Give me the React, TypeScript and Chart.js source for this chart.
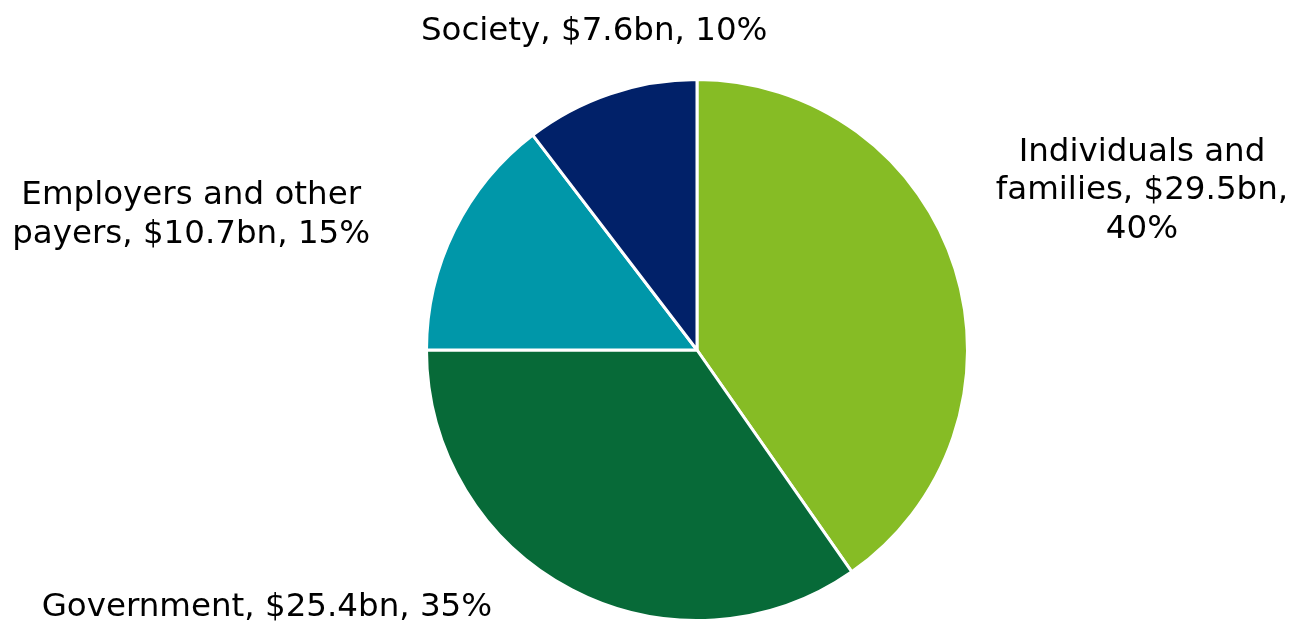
import React, { useEffect, useRef } from "react";
import { Chart, registerables } from "chart.js";

Chart.register(...registerables);

const categories = ["Individuals and families", "Government", "Employers and other payers", "Society"];
const spendBn = [29.5, 25.4, 10.7, 7.6];
const shares = [40, 35, 15, 10];
const sliceColors = ["#86BC25", "#076A38", "#0097A9", "#012169"];

// Label text, broken over lines the way it is set beside the pie
const labelLines = [
  ["Individuals and", `families, $${spendBn[0]}bn,`, `${shares[0]}%`],
  [`Government, $${spendBn[1]}bn, ${shares[1]}%`],
  ["Employers and other", `payers, $${spendBn[2]}bn, ${shares[2]}%`],
  [`Society, $${spendBn[3]}bn, ${shares[3]}%`],
];

// Where each label block sits, in units of the pie radius from its centre
const labelPlacement = [
  { x: 1.645, y: -0.588 },
  { x: -1.59, y: 0.951 },
  { x: -1.87, y: -0.498 },
  { x: -0.38, y: -1.178 },
];

const FONT = '32.5px "DejaVu Sans", Verdana, sans-serif';
const LINE_HEIGHT = 38.5;

const sideLabels = {
  id: "sideLabels",
  afterDatasetsDraw(chart: Chart) {
    const meta = chart.getDatasetMeta(0);
    const ctx = chart.ctx;
    ctx.save();
    ctx.font = FONT;
    ctx.fillStyle = "#000000";
    ctx.textAlign = "center";
    ctx.textBaseline = "middle";
    meta.data.forEach((arc: any, i: number) => {
      const { x, y, outerRadius } = arc.getProps(["x", "y", "outerRadius"], true);
      const p = labelPlacement[i];
      const cx = x + p.x * outerRadius;
      const cy = y + p.y * outerRadius;
      const lines = labelLines[i];
      const top = cy - ((lines.length - 1) * LINE_HEIGHT) / 2;
      lines.forEach((line, j) => ctx.fillText(line, cx, top + j * LINE_HEIGHT));
    });
    ctx.restore();
  },
};

export default function App() {
  const canvasRef = useRef<HTMLCanvasElement>(null);

  useEffect(() => {
    const chart = new Chart(canvasRef.current!, {
      type: "pie",
      data: {
        labels: categories,
        datasets: [
          {
            data: spendBn,
            backgroundColor: sliceColors,
            borderColor: "#ffffff",
            borderWidth: 3,
          },
        ],
      },
      options: {
        animation: false,
        responsive: true,
        maintainAspectRatio: false,
        layout: { padding: { top: 78, bottom: -3, left: 423, right: 321 } },
        plugins: {
          legend: { display: false },
          tooltip: { enabled: false },
        },
      },
      plugins: [sideLabels],
    });
    return () => chart.destroy();
  }, []);

  return (
    <div style={{ position: "fixed", left: 0, top: 0, width: 1292, height: 622, background: "#ffffff" }}>
      <canvas ref={canvasRef} />
    </div>
  );
}
